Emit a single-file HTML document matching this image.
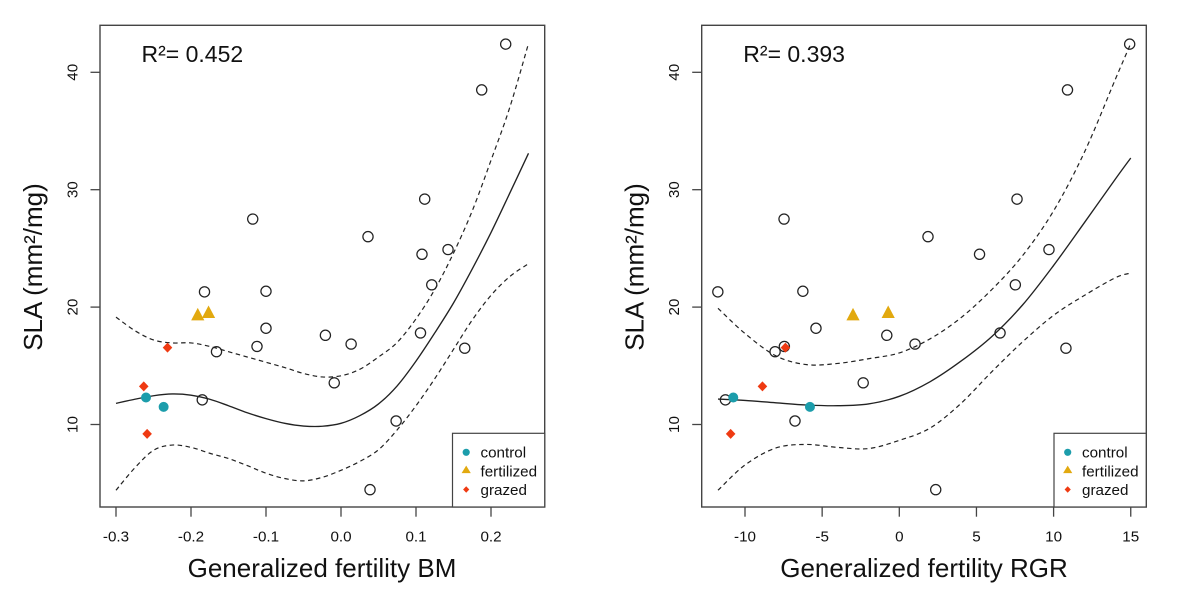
<!DOCTYPE html>
<html lang="en">
<head>
<meta charset="utf-8">
<title>SLA vs generalized fertility</title>
<style>
html,body{margin:0;padding:0;background:#fff;}
svg{display:block;}
text{font-family:"Liberation Sans",Arial,sans-serif;fill:#111;}
</style>
</head>
<body>
<svg id="figure" xmlns="http://www.w3.org/2000/svg" width="1200" height="600" viewBox="0 0 1200 600">
  <rect width="1200" height="600" fill="#fff"/>

  <g id="panel-bm">
    <rect x="100" y="25.3" width="444.7" height="481.7" fill="none" stroke="#444" stroke-width="1.4"/>
    <text x="141.5" y="62" font-size="23">R²= 0.452</text>
    <text x="322" y="577" font-size="26" text-anchor="middle">Generalized fertility BM</text>
    <text transform="translate(42,267) rotate(-90)" font-size="26" text-anchor="middle">SLA (mm²/mg)</text>
  </g>

  <g id="panel-rgr">
    <rect x="701.7" y="25.3" width="444.6" height="481.7" fill="none" stroke="#444" stroke-width="1.4"/>
    <text x="743.3" y="62" font-size="23">R²= 0.393</text>
    <text x="924" y="577" font-size="26" text-anchor="middle">Generalized fertility RGR</text>
    <text transform="translate(643.5,267) rotate(-90)" font-size="26" text-anchor="middle">SLA (mm²/mg)</text>
  </g>

  <g id="legend-bm" transform="translate(452.5,433.3)">
    <rect width="92.2" height="73.7" fill="#fff" stroke="#444" stroke-width="1.2"/>
    <circle cx="13.7" cy="19" r="3.6" fill="#1c9dab"/>
    <text x="28" y="24.3" font-size="15.2">control</text>
    <path d="M13.7 32.3 L18.3 39.8 L9.1 39.8 Z" fill="#e2a90f"/>
    <text x="28" y="43" font-size="15.2">fertilized</text>
    <path d="M13.7 53 L16.8 56.2 L13.7 59.5 L10.6 56.2 Z" fill="#ef3a12"/>
    <text x="28" y="61.6" font-size="15.2">grazed</text>
  </g>

  <g id="legend-rgr" transform="translate(1054,433.3)">
    <rect width="92.2" height="73.7" fill="#fff" stroke="#444" stroke-width="1.2"/>
    <circle cx="13.7" cy="19" r="3.6" fill="#1c9dab"/>
    <text x="28" y="24.3" font-size="15.2">control</text>
    <path d="M13.7 32.3 L18.3 39.8 L9.1 39.8 Z" fill="#e2a90f"/>
    <text x="28" y="43" font-size="15.2">fertilized</text>
    <path d="M13.7 53 L16.8 56.2 L13.7 59.5 L10.6 56.2 Z" fill="#ef3a12"/>
    <text x="28" y="61.6" font-size="15.2">grazed</text>
  </g>
</svg>

<script>
// ---- Shared SLA values ----
const yTicks = [10, 20, 30, 40];
const openSla = [42.4, 38.5, 29.2, 27.5, 26.0, 24.5, 24.9, 21.9, 21.3, 21.35, 18.2, 17.6, 16.85, 17.8, 16.65, 16.2, 16.5, 13.55, 12.1, 10.3, 4.45];
const controlSla = [12.3, 11.5];
const fertilizedSla = [19.3, 19.5];
const grazedSla = [13.25, 9.2, 16.55];

// ---- Left panel: generalized fertility BM ----
const bmTicks = [-0.3, -0.2, -0.1, 0.0, 0.1, 0.2];
const bmTickLabels = ["-0.3", "-0.2", "-0.1", "0.0", "0.1", "0.2"];
const bmOpen = [0.2196, 0.1876, 0.1116, -0.1177, 0.036, 0.108, 0.1427, 0.121, -0.182, -0.1, -0.1, -0.0208, 0.0135, 0.106, -0.112, -0.166, 0.165, -0.009, -0.185, 0.0735, 0.0387];
const bmControl = [-0.26, -0.2365];
const bmFertilized = [-0.191, -0.1766];
const bmGrazed = [-0.263, -0.2585, -0.2313];
const bmCurveX = [-0.3, -0.275, -0.25, -0.225, -0.2, -0.175, -0.15, -0.125, -0.1, -0.075, -0.05, -0.025, 0, 0.025, 0.05, 0.075, 0.1, 0.125, 0.15, 0.175, 0.2, 0.225, 0.25];
const bmFit = [11.8, 12.15, 12.45, 12.6, 12.5, 12.15, 11.6, 11.0, 10.5, 10.1, 9.87, 9.85, 10.1, 10.75, 11.75, 13.3, 15.4, 17.8, 20.35, 23.25, 26.35, 29.7, 33.1];
const bmUpper = [19.15, 18.0, 17.2, 16.95, 16.95, 16.65, 16.2, 15.75, 15.3, 14.85, 14.35, 14.05, 14.15, 14.7, 15.75, 17.0, 19.0, 21.5, 24.6, 28.2, 32.5, 37.0, 42.45];
const bmLower = [4.4, 6.3, 7.8, 8.25, 8.05, 7.55, 7.1, 6.5, 5.85, 5.4, 5.2, 5.5, 6.1, 6.85, 7.85, 9.55, 11.6, 13.9, 16.4, 18.9, 21.0, 22.6, 23.7];

// ---- Right panel: generalized fertility RGR ----
const rgrTicks = [-10, -5, 0, 5, 10, 15];
const rgrTickLabels = ["-10", "-5", "0", "5", "10", "15"];
const rgrOpen = [14.93, 10.9, 7.63, -7.47, 1.86, 5.2, 9.7, 7.52, -11.76, -6.25, -5.4, -0.81, 1.02, 6.53, -7.45, -8.05, 10.8, -2.34, -11.27, -6.76, 2.36];
const rgrControl = [-10.76, -5.79];
const rgrFertilized = [-3.0, -0.72];
const rgrGrazed = [-8.87, -10.93, -7.38];
const rgrCurveX = [-11.75, -10, -8, -6, -4, -2, 0, 2, 4, 6, 8, 10, 12, 14, 15];
const rgrFit = [12.17, 12.05, 11.85, 11.66, 11.6, 11.75, 12.4, 13.65, 15.4, 17.5, 20.2, 23.55, 27.2, 30.9, 32.7];
const rgrUpper = [19.9, 17.75, 15.85, 15.1, 15.2, 15.6, 16.1, 17.3, 19.1, 21.5, 24.4, 28.2, 33.2, 39.4, 42.45];
const rgrLower = [4.4, 6.55, 8.0, 8.3, 8.05, 7.95, 8.65, 9.7, 11.8, 14.5, 17.05, 19.3, 21.0, 22.5, 22.9];

const NS = "http://www.w3.org/2000/svg";

function svgNode(tag, parent, props) {
  const node = document.createElementNS(NS, tag);
  for (const key in props) node.setAttribute(key, props[key]);
  parent.appendChild(node);
  return node;
}

// Shared vertical axis: 10 -> 424.5 px, 40 -> 72.3 px
function yScale(v) {
  return 424.5 - (v - 10) * 11.74;
}

function bmScale(v) {
  return 116 + (v + 0.3) * 750;
}

function rgrScale(v) {
  return 745 + (v + 10) * 15.43;
}

// Smooth path through sampled curve values
function curvePath(xs, ys, xScale) {
  const pts = xs.map(function (x, i) { return [xScale(x), yScale(ys[i])]; });
  let d = "M" + pts[0][0].toFixed(2) + " " + pts[0][1].toFixed(2);
  for (let i = 0; i < pts.length - 1; i++) {
    const p0 = pts[Math.max(i - 1, 0)];
    const p1 = pts[i];
    const p2 = pts[i + 1];
    const p3 = pts[Math.min(i + 2, pts.length - 1)];
    const c1x = p1[0] + (p2[0] - p0[0]) / 6;
    const c1y = p1[1] + (p2[1] - p0[1]) / 6;
    const c2x = p2[0] - (p3[0] - p1[0]) / 6;
    const c2y = p2[1] - (p3[1] - p1[1]) / 6;
    d += " C" + c1x.toFixed(2) + " " + c1y.toFixed(2) + " " + c2x.toFixed(2) + " " + c2y.toFixed(2) + " " + p2[0].toFixed(2) + " " + p2[1].toFixed(2);
  }
  return d;
}

function drawPanel(parent, leftEdge, xScale, xTicks, xLabels, open, control, fertilized, grazed, curveX, fit, upper, lower) {
  const BOTTOM = 507;

  xTicks.forEach(function (t, i) {
    const px = xScale(t);
    const tick = svgNode("line", parent, { x1: px, x2: px, y1: BOTTOM, y2: BOTTOM + 9.7, stroke: "#444", "stroke-width": 1.3 });
    
    
    const label = svgNode("text", parent, { x: px, y: BOTTOM + 34.5, "font-size": 15.2, "text-anchor": "middle" });
    
    
    label.textContent = xLabels[i];
  });

  yTicks.forEach(function (t) {
    const py = yScale(t);
    const tick = svgNode("line", parent, { x1: leftEdge - 9.5, x2: leftEdge, y1: py, y2: py, stroke: "#444", "stroke-width": 1.3 });
    
    
    const label = svgNode("text", parent, { transform: "translate(" + (leftEdge - 22.5) + "," + py + ") rotate(-90)", "font-size": 15.2, "text-anchor": "middle" });
    
    
    label.textContent = String(t);
  });

  open.forEach(function (x, i) {
    const pt = svgNode("circle", parent, { cx: xScale(x), cy: yScale(openSla[i]), r: 5.1, fill: "none", stroke: "#222", "stroke-width": 1.25 });
    
    
  });

  const fitLine = svgNode("path", parent, { d: curvePath(curveX, fit, xScale), fill: "none", stroke: "#222", "stroke-width": 1.35 });
  
  

  const upperLine = svgNode("path", parent, { d: curvePath(curveX, upper, xScale), fill: "none", stroke: "#222", "stroke-width": 1.2, "stroke-dasharray": "4.5 3.5" });
  
  

  const lowerLine = svgNode("path", parent, { d: curvePath(curveX, lower, xScale), fill: "none", stroke: "#222", "stroke-width": 1.2, "stroke-dasharray": "4.5 3.5" });
  
  

  control.forEach(function (x, i) {
    const pt = svgNode("circle", parent, { cx: xScale(x), cy: yScale(controlSla[i]), r: 5, fill: "#1c9dab" });
    
    
  });

  fertilized.forEach(function (x, i) {
    const cx = xScale(x);
    const cy = yScale(fertilizedSla[i]);
    const pt = svgNode("path", parent, { d: "M" + cx + " " + (cy - 7.5) + " L" + (cx + 6.6) + " " + (cy + 5) + " L" + (cx - 6.6) + " " + (cy + 5) + " Z", fill: "#e2a90f" });
    
    
  });

  grazed.forEach(function (x, i) {
    const cx = xScale(x);
    const cy = yScale(grazedSla[i]);
    const pt = svgNode("path", parent, { d: "M" + cx + " " + (cy - 5) + " L" + (cx + 4.8) + " " + cy + " L" + cx + " " + (cy + 5) + " L" + (cx - 4.8) + " " + cy + " Z", fill: "#ef3a12" });
    
    
  });
}

drawPanel(document.getElementById("panel-bm"), 100, bmScale, bmTicks, bmTickLabels, bmOpen, bmControl, bmFertilized, bmGrazed, bmCurveX, bmFit, bmUpper, bmLower);
drawPanel(document.getElementById("panel-rgr"), 701.7, rgrScale, rgrTicks, rgrTickLabels, rgrOpen, rgrControl, rgrFertilized, rgrGrazed, rgrCurveX, rgrFit, rgrUpper, rgrLower);
</script>
</body>
</html>
